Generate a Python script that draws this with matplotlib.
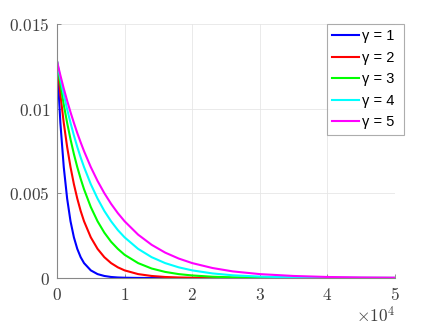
import matplotlib
matplotlib.use("Agg")
import matplotlib.pyplot as plt

plt.rcParams['mathtext.fontset'] = 'cm'

# x positions (raw units) and curve values (units of 1e-3)
x = [0, 500, 1000, 1500, 2000, 2500, 3000, 3500, 4000, 5000, 6000, 7000, 8000,
     9000, 10000, 12000, 14000, 16000, 18000, 20000, 23000, 26000, 30000,
     35000, 40000, 45000, 50000]

g1 = [12.8, 9.16, 6.55, 4.69, 3.35, 2.40, 1.72, 1.23, 0.88, 0.45, 0.23, 0.12,
      0.06, 0.03, 0.016, 0.004, 0.001, 0, 0, 0, 0, 0, 0, 0, 0, 0, 0]
g2 = [12.8, 10.83, 9.16, 7.74, 6.55, 5.54, 4.69, 3.96, 3.35, 2.40, 1.72, 1.23,
      0.88, 0.63, 0.45, 0.23, 0.12, 0.06, 0.03, 0.016, 0.006, 0.002, 0, 0, 0,
      0, 0]
g3 = [12.8, 11.45, 10.24, 9.16, 8.19, 7.32, 6.55, 5.86, 5.24, 4.19, 3.35,
      2.68, 2.14, 1.72, 1.37, 0.88, 0.56, 0.36, 0.23, 0.15, 0.075, 0.039,
      0.016, 0.005, 0.002, 0, 0]
g4 = [12.8, 11.77, 10.83, 9.96, 9.16, 8.42, 7.74, 7.12, 6.55, 5.54, 4.69,
      3.96, 3.35, 2.83, 2.40, 1.72, 1.23, 0.88, 0.63, 0.45, 0.27, 0.16, 0.084,
      0.036, 0.016, 0.007, 0.003]
g5 = [12.8, 11.97, 11.19, 10.47, 9.79, 9.16, 8.56, 8.01, 7.49, 6.55, 5.73,
      5.01, 4.38, 3.83, 3.35, 2.56, 1.96, 1.50, 1.15, 0.88, 0.59, 0.39, 0.23,
      0.12, 0.06, 0.031, 0.016]

series = [g1, g2, g3, g4, g5]
labels = ['\u03b3 = 1 ', '\u03b3 = 2 ', '\u03b3 = 3 ', '\u03b3 = 4 ', '\u03b3 = 5 ']
colors = ['#0000ff', '#ff0000', '#00ff00', '#00ffff', '#ff00ff']

xticks = [0, 10000, 20000, 30000, 40000, 50000]
xticklabels = ['0', '1', '2', '3', '4', '5']
yticks = [0, 0.005, 0.01, 0.015]
yticklabels = ['0', '0.005', '0.01', '0.015']

fig = plt.figure(figsize=(4.36, 3.27), dpi=100)
ax = fig.add_axes([57/436, 1 - 278/327, 338/436, 254/327])

for s, lab, c in zip(series, labels, colors):
    ax.plot(x, [v * 1e-3 for v in s], color=c, lw=1.5, label=lab)

ax.set_xlim(0, 50000)
ax.set_ylim(0, 0.015)
ax.set_xticks(xticks)
ax.set_xticklabels(['$' + t + '$' for t in xticklabels])
ax.set_yticks(yticks)
ax.set_yticklabels(['$' + t + '$' for t in yticklabels])
ax.tick_params(direction='in', length=3, width=0.6, colors='#808080',
               labelcolor='#404040', labelsize=12.5)
ax.tick_params(axis='x', pad=6)
ax.tick_params(axis='y', pad=5)
ax.grid(True, color='#e6e6e6', lw=0.6)
ax.set_axisbelow(True)
for sp in ['top', 'right']:
    ax.spines[sp].set_visible(False)
for sp in ['left', 'bottom']:
    ax.spines[sp].set_color('#888888')
    ax.spines[sp].set_linewidth(0.8)

fig.text(395/436, 1 - 322/327, r'$\times10^4$', ha='right', va='baseline',
         fontsize=12.5, color='#404040')

leg = ax.legend(loc='upper right', bbox_to_anchor=(404/436, 1 - 24/327),
                bbox_transform=fig.transFigure, borderaxespad=0,
                prop={'family': 'Liberation Sans', 'size': 10.5},
                handlelength=1.9, handletextpad=0.2, labelspacing=0.52,
                borderpad=0.35, frameon=True, fancybox=False)
leg.get_frame().set_edgecolor('#999999')
leg.get_frame().set_linewidth(0.8)

fig.savefig('out.png', dpi=100)
